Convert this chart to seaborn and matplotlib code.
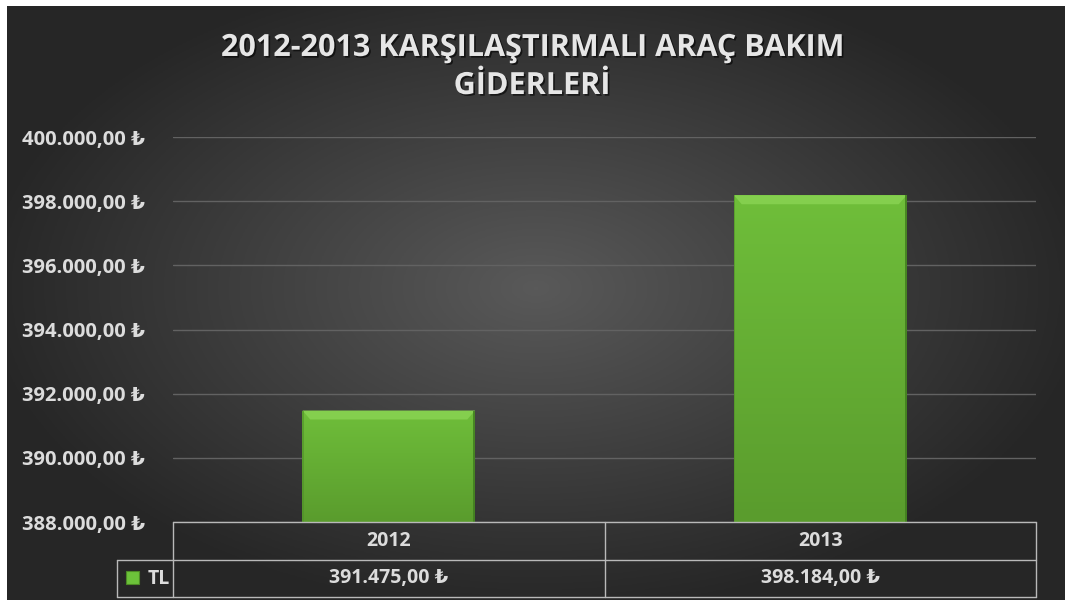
import numpy as np
import pandas as pd
import matplotlib
matplotlib.use("Agg")
import matplotlib.pyplot as plt
import matplotlib.patheffects as pe
from matplotlib.patches import Polygon, Rectangle
import seaborn as sns

# data
years = ["2012", "2013"]
costs = [391475.00, 398184.00]
series_name = "TL"
y_ticks = [388000, 390000, 392000, 394000, 396000, 398000, 400000]
title = "2012-2013 KARŞILAŞTIRMALI ARAÇ BAKIM\nGİDERLERİ"


def tl(v):
    s = f"{v:,.2f}"
    s = s.replace(",", "X").replace(".", ",").replace("X", ".")
    return s + " ₺"


sns.set_style("dark")
plt.rcParams["font.family"] = ["Open Sans", "DejaVu Sans"]
txt = "#dcdcdc"

fig = plt.figure(figsize=(10.65, 6.03), dpi=100, facecolor="white")

# dark radial background
bg = fig.add_axes([7 / 1065, 3 / 603, 1 - 7 / 1065, 1 - 9 / 603])
bg.set_axis_off()
gx, gy = np.meshgrid(np.linspace(-1, 1, 400), np.linspace(-1, 1, 240))
r = np.sqrt(((gx - 0.0) / 1.05) ** 2 + ((gy + 0.05) / 1.1) ** 2)
shade = np.clip(0.35 - 0.2 * r, 0.15, 0.35)
bg.imshow(np.dstack([shade] * 3), aspect="auto", extent=[0, 1, 0, 1])

ax = fig.add_axes([173 / 1065, 81 / 603, 863 / 1065, 385 / 603])
ax.patch.set_alpha(0)

df = pd.DataFrame({"year": years, "cost": costs})
sns.barplot(data=df, x="year", y="cost", color="#66b235", width=0.4,
            saturation=1, linewidth=0, ax=ax, zorder=3)

ax.set_ylim(y_ticks[0], y_ticks[-1])
ax.set_xlim(-0.5, len(years) - 0.5)
ax.set_yticks(y_ticks)
ax.set_yticklabels([tl(v) for v in y_ticks], color=txt, fontsize=14.5,
                   fontweight="bold")
ax.set_xticks([])
ax.set_xlabel("")
ax.set_ylabel("")
ax.tick_params(axis="y", length=0, pad=20)
ax.grid(axis="y", color="#626262", linewidth=1)
ax.grid(axis="x", visible=False)
for s in ax.spines.values():
    s.set_visible(False)

# gradient + bevel on bars (only the visible part above the axis floor)
ymin = y_ticks[0]
grad = np.linspace(0, 1, 100).reshape(-1, 1)
cmap = matplotlib.colors.LinearSegmentedColormap.from_list(
    "g", ["#5a9c2d", "#6fbe3a"])
for p in ax.patches:
    x0, w = p.get_x(), p.get_width()
    y1 = p.get_y() + p.get_height()
    clip = Rectangle((x0, ymin), w, y1 - ymin, transform=ax.transData,
                     facecolor="none", edgecolor="none")
    ax.add_patch(clip)
    im = ax.imshow(grad, cmap=cmap, aspect="auto", origin="lower",
                   extent=[x0, x0 + w, ymin, y1], zorder=4)
    im.set_clip_path(clip)
    dx, dy = 0.018, 280
    ax.add_patch(Polygon([[x0, y1], [x0 + w, y1], [x0 + w - dx, y1 - dy],
                          [x0 + dx, y1 - dy]], closed=True,
                         facecolor="#84cf4e", edgecolor="none", zorder=5))
    ax.add_patch(Rectangle((x0, ymin), 0.003, y1 - ymin,
                           facecolor="#4f8f28", edgecolor="none", zorder=5,
                           alpha=0.6))
    ax.add_patch(Rectangle((x0 + w - 0.004, ymin), 0.004, y1 - ymin,
                           facecolor="#3f7a1e", edgecolor="none", zorder=5,
                           alpha=0.8))

# data table below the plot
tr = matplotlib.transforms.blended_transform_factory(ax.transData, ax.transAxes)
lc = "#b9b9b9"
row1, row2, row3 = 0.0, -38 / 385, -75 / 385
xl = -0.5 - (56 / 863) * 2
kw = dict(color=lc, linewidth=1, transform=tr, clip_on=False, zorder=6)
ax.plot([-0.5, 1.5], [row1, row1], **kw)
ax.plot([xl, 1.5], [row2, row2], **kw)
ax.plot([xl, 1.5], [row3, row3], **kw)
for xv in [-0.5, 0.5, 1.5]:
    ax.plot([xv, xv], [row1, row3], **kw)
ax.plot([xl, xl], [row2, row3], **kw)

for i, (yr, c) in enumerate(zip(years, costs)):
    ax.text(i, (row1 + row2) / 2, yr, ha="center", va="center", color=txt,
            fontsize=14, fontweight="bold", transform=tr, zorder=7)
    ax.text(i, (row2 + row3) / 2, tl(c), ha="center", va="center", color=txt,
            fontsize=14, fontweight="bold", transform=tr, zorder=7)

kx = -0.5 - (47 / 863) * 2
ax.add_patch(Rectangle((kx, -62 / 385), (13 / 863) * 2, 13 / 385,
                       facecolor="#6cc23a", edgecolor="#4c8a25", linewidth=0.8,
                       transform=tr, clip_on=False, zorder=7))
ax.text(-0.5 - (25 / 863) * 2, (row2 + row3) / 2, series_name, ha="left",
        va="center", color=txt, fontsize=14, fontweight="bold",
        transform=tr, zorder=7)

fig.text(0.4995, 1 - 67 / 603, title, ha="center", va="center",
         color="#e6e6e6", fontsize=22, fontweight="bold",
         linespacing=1.35,
         path_effects=[pe.withSimplePatchShadow(offset=(1.2, -1.2),
                                                shadow_rgbFace="black",
                                                alpha=0.6)])

fig.savefig("out.png", dpi=100, facecolor="white")
